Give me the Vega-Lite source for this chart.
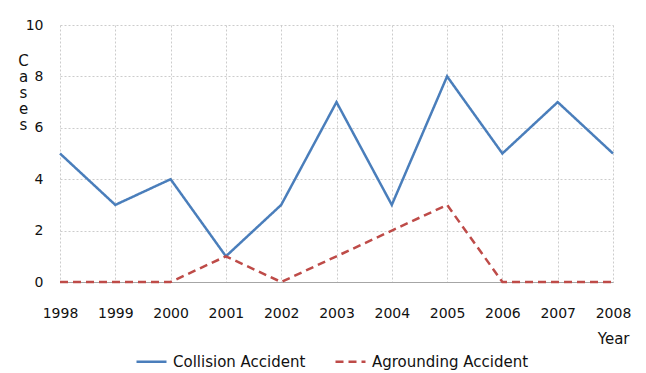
{
  "$schema": "https://vega.github.io/schema/vega-lite/v6.json",
  "autosize": {"type": "none"},
  "padding": {"left": 60, "top": 25, "right": 33, "bottom": 91},
  "width": 553,
  "height": 257,
  "background": "white",
  "config": {
    "view": {"stroke": null},
    "font": "DejaVu Sans",
    "axis": {"labelFont": "DejaVu Sans", "titleFont": "DejaVu Sans", "labelColor": "#111", "titleColor": "#111", "titleFontWeight": "normal"},
    "legend": {"labelFont": "DejaVu Sans"}
  },
  "data": {
    "values": [
      {"year": "1998", "series": "Collision Accident", "cases": 5},
      {"year": "1999", "series": "Collision Accident", "cases": 3},
      {"year": "2000", "series": "Collision Accident", "cases": 4},
      {"year": "2001", "series": "Collision Accident", "cases": 1},
      {"year": "2002", "series": "Collision Accident", "cases": 3},
      {"year": "2003", "series": "Collision Accident", "cases": 7},
      {"year": "2004", "series": "Collision Accident", "cases": 3},
      {"year": "2005", "series": "Collision Accident", "cases": 8},
      {"year": "2006", "series": "Collision Accident", "cases": 5},
      {"year": "2007", "series": "Collision Accident", "cases": 7},
      {"year": "2008", "series": "Collision Accident", "cases": 5},
      {"year": "1998", "series": "Agrounding Accident", "cases": 0},
      {"year": "1999", "series": "Agrounding Accident", "cases": 0},
      {"year": "2000", "series": "Agrounding Accident", "cases": 0},
      {"year": "2001", "series": "Agrounding Accident", "cases": 1},
      {"year": "2002", "series": "Agrounding Accident", "cases": 0},
      {"year": "2003", "series": "Agrounding Accident", "cases": 1},
      {"year": "2004", "series": "Agrounding Accident", "cases": 2},
      {"year": "2005", "series": "Agrounding Accident", "cases": 3},
      {"year": "2006", "series": "Agrounding Accident", "cases": 0},
      {"year": "2007", "series": "Agrounding Accident", "cases": 0},
      {"year": "2008", "series": "Agrounding Accident", "cases": 0}
    ]
  },
  "mark": {"type": "line", "strokeWidth": 2.5},
  "encoding": {
    "x": {
      "field": "year", "type": "ordinal",
      "scale": {"type": "point", "padding": 0},
      "axis": {
        "labelAngle": 0, "ticks": false, "labelPadding": 24, "labelFontSize": 14,
        "grid": true, "gridColor": "#cccccc", "gridDash": [2, 2], "gridWidth": 1,
        "domain": true, "domainColor": "#a6a6a6", "domainWidth": 1,
        "title": "Year", "titleFontSize": 15, "titleAnchor": "end", "titleAlign": "right",
        "titleX": 569, "titleY": 61, "titleBaseline": "alphabetic"
      }
    },
    "y": {
      "field": "cases", "type": "quantitative",
      "scale": {"domain": [0, 10], "nice": false},
      "axis": {
        "values": [0, 2, 4, 6, 8, 10], "ticks": false, "domain": false, "labelPadding": 17, "labelFontSize": 14,
        "grid": true, "gridColor": "#cccccc", "gridDash": [2, 2], "gridWidth": 1,
        "title": ["C", "a", "s", "e", "s"], "titleAngle": 0, "titleFontSize": 15,
        "titleAlign": "center", "titleBaseline": "top", "titleX": -37, "titleY": 28, "titleLineHeight": 16
      }
    },
    "color": {
      "field": "series", "type": "nominal",
      "scale": {"domain": ["Collision Accident", "Agrounding Accident"], "range": ["#4a7ebb", "#be4b48"]},
      "legend": {
        "title": null, "orient": "none", "direction": "horizontal", "legendX": 75, "legendY": 320,
        "symbolType": "stroke", "symbolSize": 900, "symbolStrokeWidth": 2.5,
        "labelFontSize": 15, "labelColor": "#111", "labelOffset": 5, "columnPadding": 24
      }
    },
    "strokeDash": {
      "field": "series", "type": "nominal",
      "scale": {"domain": ["Collision Accident", "Agrounding Accident"], "range": [[1, 0], [8, 5]]},
      "legend": null
    }
  }
}
